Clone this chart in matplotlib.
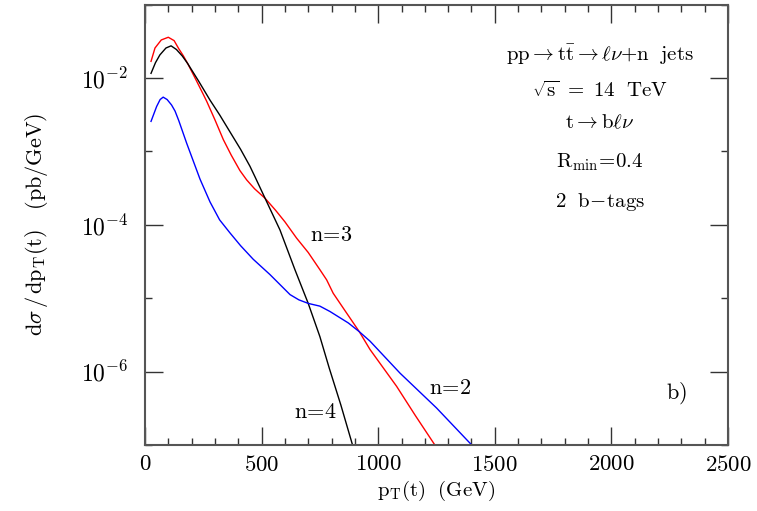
import matplotlib
matplotlib.use('Agg')
import matplotlib.pyplot as plt
from matplotlib.ticker import FixedLocator, NullFormatter, LogFormatterSciNotation

plt.rcParams['mathtext.fontset'] = 'cm'
plt.rcParams['font.family'] = 'serif'
plt.rcParams['font.serif'] = ['cmr10', 'DejaVu Serif']
plt.rcParams['axes.formatter.use_mathtext'] = True
plt.rcParams['axes.unicode_minus'] = False

# n=3 (red)
pt_n3 = [26, 43, 70, 100, 125, 145, 165, 183, 220, 250, 265, 300, 336, 370, 407, 436,
         470, 515, 560, 600, 650, 700, 750, 779, 807, 860, 919, 965, 1079, 1160, 1243]
xs_n3 = [1.69e-2, 2.57e-2, 3.31e-2, 3.60e-2, 3.24e-2, 2.51e-2, 2.00e-2, 1.58e-2, 9.3e-3,
         6.0e-3, 4.8e-3, 2.7e-3, 1.45e-3, 8.9e-4, 5.5e-4, 4.1e-4, 3.1e-4, 2.3e-4, 1.58e-4,
         1.10e-4, 6.6e-5, 4.2e-5, 2.45e-5, 1.78e-5, 1.17e-5, 6.6e-6, 3.5e-6, 2.0e-6,
         6.3e-7, 2.5e-7, 1.0e-7]

# n=4 (black)
pt_n4 = [26, 45, 64, 90, 112, 135, 160, 183, 230, 279, 320, 364, 410, 450, 472, 515,
         579, 643, 700, 750, 790, 840, 890]
xs_n4 = [1.16e-2, 1.62e-2, 2.07e-2, 2.57e-2, 2.75e-2, 2.45e-2, 2.00e-2, 1.58e-2, 9.1e-3,
         5.0e-3, 3.16e-3, 1.86e-3, 1.07e-3, 6.3e-4, 4.5e-4, 2.3e-4, 8.5e-5, 2.45e-5, 8.5e-6,
         3.0e-6, 1.12e-6, 3.5e-7, 1.0e-7]

# n=2 (blue)
pt_n2 = [26, 50, 65, 78, 95, 114, 129, 145, 179, 236, 279, 320, 364, 410, 464, 536,
         622, 660, 700, 750, 793, 872, 919, 965, 1094, 1250, 1401]
xs_n2 = [2.57e-3, 4.1e-3, 5.1e-3, 5.5e-3, 5.1e-3, 4.3e-3, 3.55e-3, 2.63e-3, 1.29e-3,
         4.2e-4, 2.05e-4, 1.17e-4, 7.8e-5, 5.2e-5, 3.4e-5, 2.1e-5, 1.12e-5, 9.5e-6, 8.5e-6,
         7.8e-6, 6.6e-6, 4.6e-6, 3.5e-6, 2.6e-6, 9.5e-7, 3.2e-7, 1.0e-7]

info_lines = [r'$\mathrm{pp}\rightarrow\mathrm{t\bar{t}}\rightarrow\ell\nu\mathrm{+n\ \ jets}$',
              r'$\sqrt{\mathrm{s}}\ =\ 14\ \ \mathrm{TeV}$',
              r'$\mathrm{t}\rightarrow\mathrm{b}\ell\nu$',
              r'$\mathrm{R_{min}\!=\!0.4}$',
              r'$\mathrm{2\ \ b\!-\!tags}$']
info_y = [2.07e-2, 6.8e-3, 2.45e-3, 7.2e-4, 2.05e-4]

fig = plt.figure(figsize=(7.57, 5.11), dpi=100)
ax = fig.add_axes([0.1915, 0.1292, 0.7702, 0.8616])

ax.plot(pt_n3, xs_n3, color='#ff0000', lw=1.0)
ax.plot(pt_n4, xs_n4, color='black', lw=1.0)
ax.plot(pt_n2, xs_n2, color='#0000ff', lw=1.0)

ax.set_yscale('log')
ax.set_xlim(0, 2500)
ax.set_ylim(1e-7, 1e-1)

# ticks: long at labelled positions, short elsewhere, inside on all four sides
ax.xaxis.set_major_locator(FixedLocator([0, 500, 1000, 1500, 2000, 2500]))
ax.xaxis.set_minor_locator(FixedLocator(list(range(0, 2501, 100))))
ax.yaxis.set_major_locator(FixedLocator([1e-6, 1e-4, 1e-2]))
ax.yaxis.set_minor_locator(FixedLocator([1e-7, 1e-5, 1e-3, 1e-1]))
ax.yaxis.set_major_formatter(LogFormatterSciNotation())
ax.yaxis.set_minor_formatter(NullFormatter())

ax.tick_params(which='both', direction='in', top=True, right=True, width=1.0, color='#333333')
ax.tick_params(which='major', length=13)
ax.tick_params(which='minor', length=5)
ax.tick_params(axis='x', which='major', labelsize=16.5, pad=7)
ax.tick_params(axis='y', which='major', labelsize=17, pad=12)

for s in ax.spines.values():
	s.set_linewidth(1.5)
	s.set_color('#555555')

ax.set_xlabel(r'$\mathrm{p_T(t)\ \ (GeV)}$', fontsize=15, labelpad=3)
ax.set_ylabel(r'$\mathrm{d}\sigma\,/\,\mathrm{dp_T(t)\ \ \ (pb/GeV)}$', fontsize=16, labelpad=22)

for line, yy in zip(info_lines, info_y) :
	ax.text(1951, yy, line, fontsize=15, ha='center', va='center')

ax.text(802, 7.2e-5, r'$\mathrm{n\!=\!3}$', fontsize=16, ha='center', va='center')
ax.text(1308, 6.0e-7, r'$\mathrm{n\!=\!2}$', fontsize=16, ha='center', va='center')
ax.text(733, 2.75e-7, r'$\mathrm{n\!=\!4}$', fontsize=16, ha='center', va='center')
ax.text(2277, 5.1e-7, r'$\mathrm{b)}$', fontsize=16, ha='center', va='center')

fig.savefig('out.png', dpi=100)
